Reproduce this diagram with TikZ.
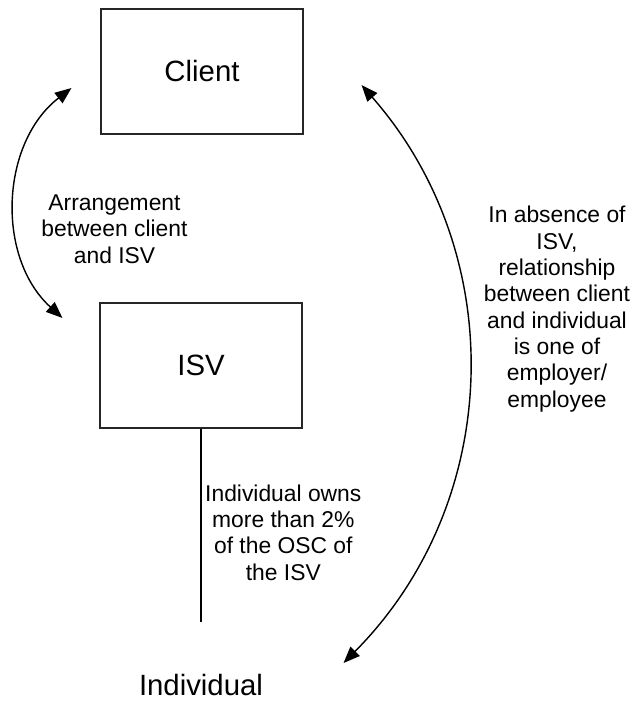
\documentclass[tikz,border=0pt]{standalone}
\usepackage{fontspec}
\setmainfont{Liberation Sans}
\usetikzlibrary{arrows.meta,positioning,calc}
\tikzset{
  base/.style={font=\fontsize{13}{15}\selectfont, align=center, inner sep=2pt, text=black},
  party/.style={rectangle, draw=black!85, line width=0.6pt, minimum width=4.04cm, minimum height=2.5cm, font=\fontsize{16.7}{20}\selectfont},
  ghost/.style={party, draw=none},
  lbl/.style={base},
  link/.style={line width=0.8pt, draw=black},
  arr2/.style={link, arrows={Triangle[length=3.3mm,width=2.6mm]-Triangle[length=3.3mm,width=2.6mm]}},
}

\begin{document}
\begin{tikzpicture}
  \useasboundingbox (0,0) rectangle (12.74,-14.08);
  \node[party] (client) at (4.04,-1.43)  {Client};
  \node[party] (isv)    at (4.02,-7.31)  {ISV};
  \node[ghost] (indiv)  at (4.02,-13.71) {Individual};
  \draw[link] (isv) -- (indiv) node[midway,lbl,right,yshift=-1.4mm]{Individual owns\\more than 2\%\\of the OSC of\\the ISV};
  \draw[arr2] ([shift={(-0.58,-0.33)}]client.west) to[bend right=50] ([shift={(-0.74,0.95)}]isv.west);
  \draw[arr2] ([shift={(1.16,-0.27)}]client.east) to[bend left=43] ([shift={(0.82,0.45)}]indiv.east);
  \node[lbl] (deal) at (2.29,-4.58)  {Arrangement\\between client\\and ISV};
  \node[lbl] (empl) at (11.14,-6.18) {In absence of\\ISV,\\relationship\\between client\\and individual\\is one of\\employer/\\employee};
\end{tikzpicture}
\end{document}
